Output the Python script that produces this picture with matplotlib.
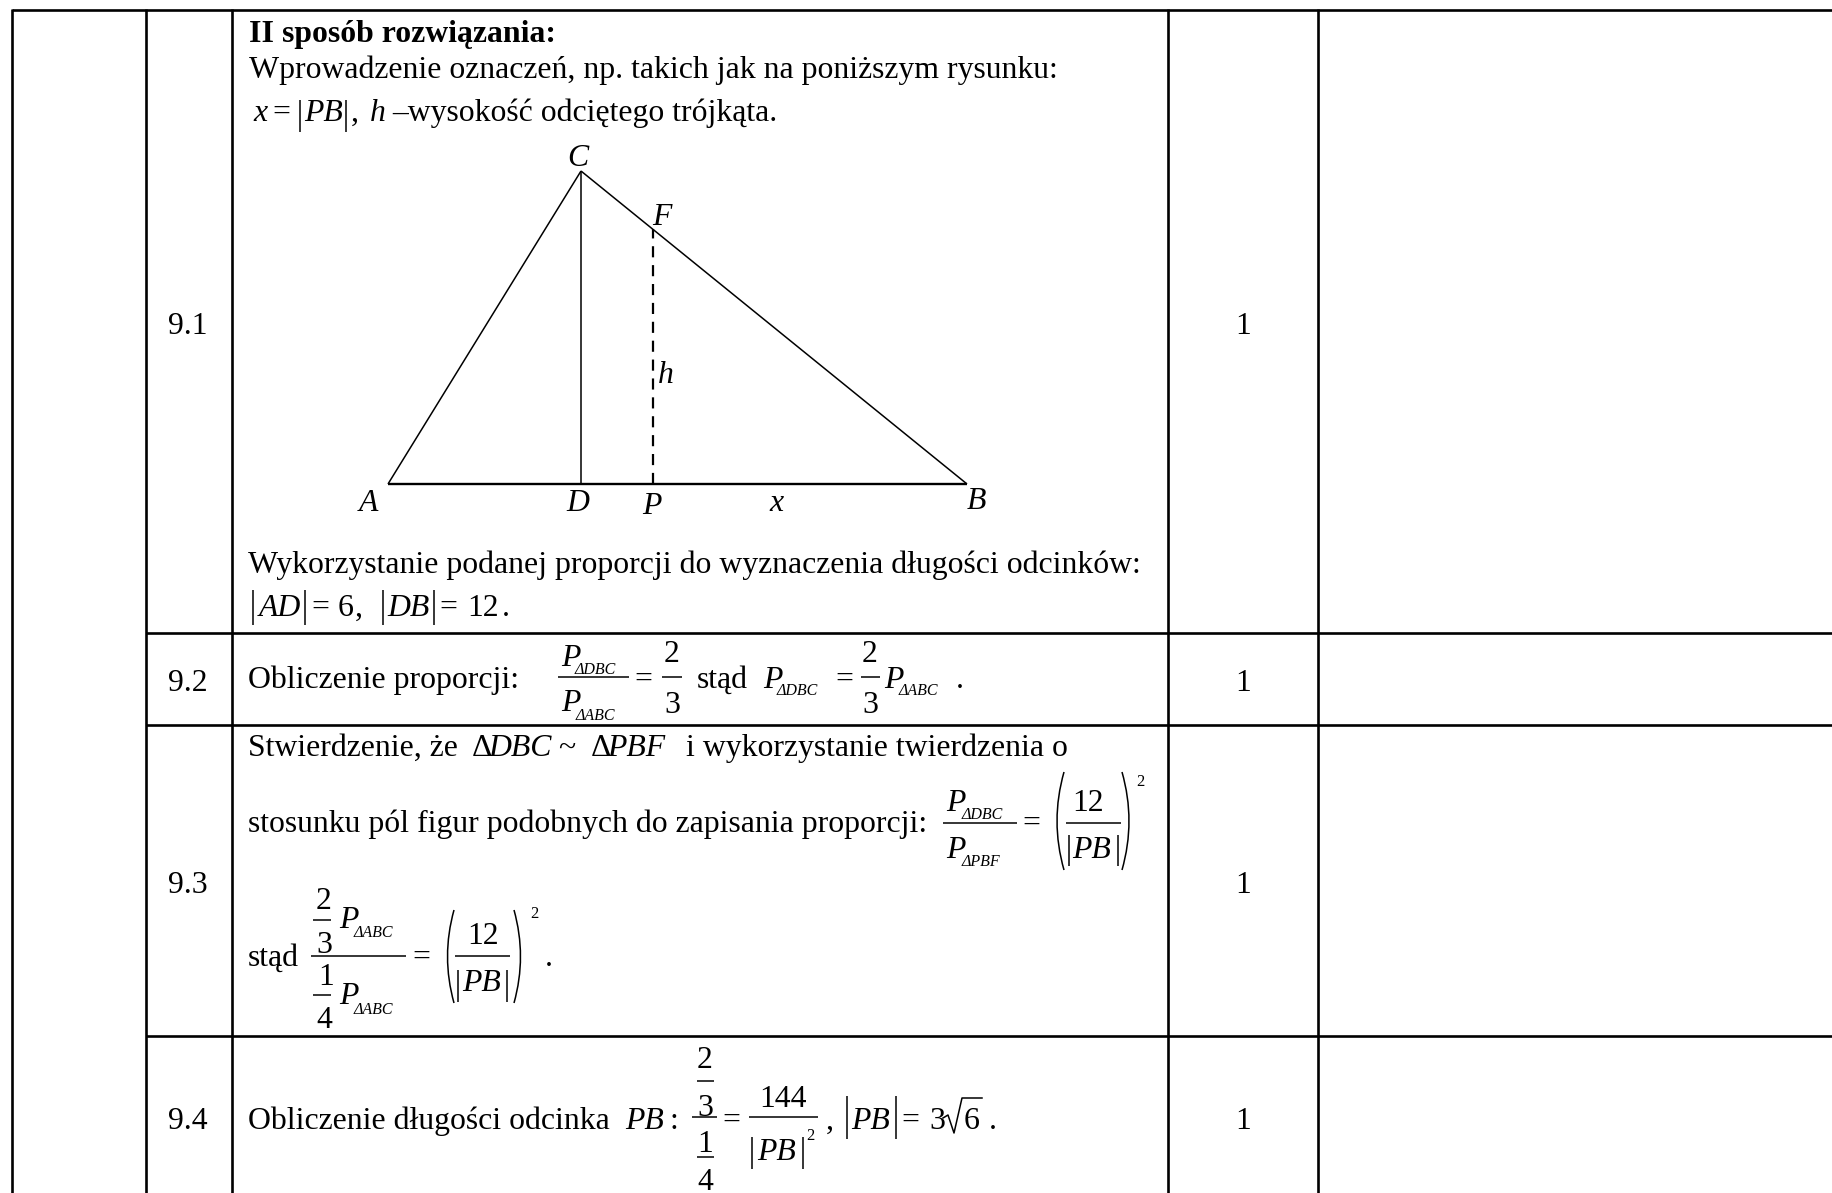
import matplotlib
matplotlib.use("Agg")
import matplotlib.pyplot as plt
from matplotlib.path import Path
from matplotlib.patches import PathPatch

plt.rcParams["font.family"] = ["Liberation Serif", "DejaVu Serif"]

# table grid, in pixels of the page
col_x = [12, 146, 232, 1168, 1318]
row_y = [10, 633, 725, 1036]
page_w, page_h = 1832, 1193

row_labels = ["9.1", "9.2", "9.3", "9.4"]
row_scores = ["1", "1", "1", "1"]
row_baseline = [333, 690, 892, 1128]

# triangle from the drawing
pt_A = (388, 484)
pt_B = (967, 484)
pt_C = (581, 171)
pt_D = (581, 484)
pt_P = (653, 484)
pt_F = (653, 229)

FS = 22.9
SUB = 11.5
SUP = 12

fig = plt.figure(figsize=(page_w / 100, page_h / 100), dpi=100)
ax = fig.add_axes([0, 0, 1, 1])
ax.set_xlim(0, page_w)
ax.set_ylim(page_h, 0)
ax.axis("off")


def t(x, y, s, size=FS, it=False, bold=False, ha="left"):
    ax.text(x, y + 1, s, fontsize=size, style="italic" if it else "normal",
            weight="bold" if bold else "normal", ha=ha, va="baseline", color="black")


def seg(x0, y0, x1, y1, lw=1.1, **kw):
    ax.plot([x0, x1], [y0, y1], color="black", lw=lw, solid_capstyle="butt", **kw)


def abs_bars(x0, x1, y0, y1):
    seg(x0, y0, x0, y1)
    seg(x1, y0, x1, y1)


def paren(x0, x1, y0, y1):
    # x0 is the tip side, x1 the belly side
    p = Path([(x0, y0), (x1, (y0 + y1) / 2), (x0, y1)], [Path.MOVETO, Path.CURVE3, Path.CURVE3])
    ax.add_patch(PathPatch(p, fill=False, lw=1.1, color="black"))


# grid lines
for x in col_x:
    seg(x, row_y[0] - 1, x, page_h, lw=1.9)
seg(col_x[0], row_y[0], page_w, row_y[0], lw=1.9)
for y in row_y[1:]:
    seg(col_x[1], y, page_w, y, lw=1.9)

# number and score columns
for lab, sc, y in zip(row_labels, row_scores, row_baseline):
    t(188, y, lab, ha="center")
    t(1243, y, sc, ha="center")

# row 9.1
t(249, 41, "II sposób rozwiązania:", bold=True)
t(249, 77, "Wprowadzenie oznaczeń, np. takich jak na poniższym rysunku:")
t(253, 120, "x", it=True)
t(272, 120, "=")
abs_bars(300, 346, 100, 132)
t(304, 120, "PB", it=True)
t(351, 120, ",")
t(370, 120, "h", it=True)
t(392, 120, "–wysokość odciętego trójkąta.")

seg(*pt_A, *pt_C, lw=1.1)
seg(*pt_C, *pt_B, lw=1.1)
seg(*pt_C, *pt_D, lw=1.1)
seg(*pt_A, *pt_B, lw=1.7)
ax.plot([pt_P[0], pt_F[0]], [pt_P[1], pt_F[1]], color="black", lw=1.6, dashes=(5, 3.5))

t(567, 165, "C", it=True)
t(652, 224, "F", it=True)
t(658, 382, "h", it=True)
t(359, 510, "A", it=True)
t(566, 510, "D", it=True)
t(642, 513, "P", it=True)
t(769, 510, "x", it=True)
t(967, 508, "B", it=True)

t(248, 572, "Wykorzystanie podanej proporcji do wyznaczenia długości odcinków:")
abs_bars(253, 305, 590, 625)
t(259, 615, "AD", it=True)
t(311, 615, "=")
t(338, 615, "6")
t(355, 615, ",")
abs_bars(383, 434, 590, 625)
t(387, 615, "DB", it=True)
t(439, 615, "=")
t(467, 615, "12")
t(502, 615, ".")

# row 9.2
t(248, 687, "Obliczenie proporcji:")
t(561, 665, "P", it=True)
t(575, 673, "ΔDBC", size=SUB, it=True)
seg(558, 677, 629, 677)
t(561, 710, "P", it=True)
t(576, 719, "ΔABC", size=SUB, it=True)
t(634, 687, "=")
t(664, 661, "2")
seg(662, 677, 682, 677)
t(664, 712, "3")
t(697, 687, "stąd")
t(763, 687, "P", it=True)
t(777, 694, "ΔDBC", size=SUB, it=True)
t(835, 687, "=")
t(862, 661, "2")
seg(861, 677, 880, 677)
t(862, 712, "3")
t(884, 687, "P", it=True)
t(899, 694, "ΔABC", size=SUB, it=True)
t(956, 687, ".")

# row 9.3
t(248, 755, "Stwierdzenie, że")
t(472, 755, "Δ")
t(488, 755, "DBC", it=True)
t(558, 755, "~")
t(591, 755, "Δ")
t(607, 755, "PBF", it=True)
t(686, 755, "i wykorzystanie twierdzenia o")

t(248, 831, "stosunku pól figur podobnych do zapisania proporcji:")
t(946, 810, "P", it=True)
t(962, 818, "ΔDBC", size=SUB, it=True)
seg(943, 823, 1017, 823)
t(946, 857, "P", it=True)
t(962, 865, "ΔPBF", size=SUB, it=True)
t(1022, 831, "=")
paren(1064, 1050, 772, 870)
paren(1122, 1136, 772, 870)
t(1136, 785, "2", size=SUP)
t(1072, 810, "12")
seg(1066, 823, 1121, 823)
abs_bars(1069, 1118, 835, 866)
t(1072, 857, "PB", it=True)

t(248, 965, "stąd")
t(316, 908, "2")
seg(313, 920, 331, 920)
t(316, 952, "3")
t(339, 927, "P", it=True)
t(354, 936, "ΔABC", size=SUB, it=True)
seg(311, 956, 406, 956)
t(318, 984, "1")
seg(313, 995, 331, 995)
t(316, 1027, "4")
t(339, 1003, "P", it=True)
t(354, 1013, "ΔABC", size=SUB, it=True)
t(412, 965, "=")
paren(454, 441, 910, 1003)
paren(514, 527, 910, 1003)
t(530, 917, "2", size=SUP)
t(467, 943, "12")
seg(455, 956, 510, 956)
abs_bars(458, 507, 970, 1002)
t(462, 990, "PB", it=True)
t(545, 965, ".")

# row 9.4
t(248, 1128, "Obliczenie długości odcinka")
t(625, 1128, "PB", it=True)
t(670, 1128, ":")
t(697, 1067, "2")
seg(697, 1081, 714, 1081)
t(697, 1115, "3")
seg(692, 1117, 717, 1117)
t(697, 1151, "1")
seg(697, 1157, 714, 1157)
t(697, 1189, "4")
t(722, 1128, "=")
t(759, 1106, "144")
seg(749, 1117, 818, 1117)
abs_bars(752, 803, 1137, 1169)
t(757, 1159, "PB", it=True)
t(806, 1139, "2", size=SUP)
t(826, 1128, ",")
abs_bars(847, 896, 1096, 1139)
t(851, 1128, "PB", it=True)
t(901, 1128, "=")
t(929, 1128, "3")
ax.plot([943, 948, 954, 962, 982], [1118, 1115, 1133, 1098, 1098], color="black", lw=1.1)
t(964, 1128, "6")
t(989, 1128, ".")

fig.savefig("out.png", dpi=100)
